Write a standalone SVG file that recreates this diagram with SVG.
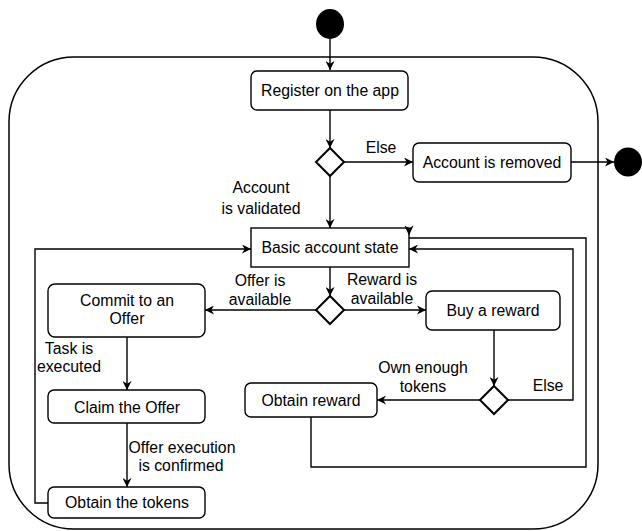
<svg xmlns="http://www.w3.org/2000/svg" width="642" height="531" viewBox="0 0 642 531">
  <style>
    .box { fill: #ffffff; stroke: #000000; stroke-width: 1.4; }
    .dec { fill: #ffffff; stroke: #000000; stroke-width: 2; }
    .edge { fill: none; stroke: #000000; stroke-width: 1.4; }
    .head { fill: #000000; stroke: none; }
    .txt { font-family: "Liberation Sans", Arial, sans-serif; font-size: 15.8px; fill: #000000; text-anchor: middle; }
  </style>
  <defs>
    <marker id="arrow" viewBox="0 0 10 10" refX="10" refY="5" markerWidth="10" markerHeight="9" markerUnits="userSpaceOnUse" orient="auto">
      <path d="M0,0 L10,5 L0,10 L3,5 Z" fill="#000000"/>
    </marker>
  </defs>

  <!-- composite state frame -->
  <rect id="frame" x="9" y="57" width="589" height="472" rx="65" ry="65" fill="none" stroke="#000000" stroke-width="1.5"/>

  <!-- initial and final nodes -->
  <g id="start"><ellipse cx="330" cy="24" rx="14" ry="15" fill="#000000"/></g>
  <g id="end"><ellipse cx="628" cy="162" rx="14" ry="14.5" fill="#000000"/></g>

  <g id="register">
    <rect class="box" x="251" y="71" width="157" height="39" rx="6"/>
    <text class="txt" x="330" y="96">Register on the app</text>
  </g>

  <g id="decision-validated">
    <polygon class="dec" points="330,148 344,162 330,176 316,162"/>
  </g>

  <g id="removed">
    <rect class="box" x="413" y="143" width="158" height="39" rx="6"/>
    <text class="txt" x="492" y="167.5">Account is removed</text>
  </g>

  <g id="basic">
    <rect class="box" x="251" y="228" width="158" height="39"/>
    <text class="txt" x="330" y="253">Basic account state</text>
  </g>

  <g id="decision-choice">
    <polygon class="dec" points="330,296 344,310 330,324 316,310"/>
  </g>

  <g id="commit">
    <rect class="box" x="48" y="284" width="157" height="53" rx="7"/>
    <text class="txt" x="127" y="305.5">Commit to an</text>
    <text class="txt" x="127" y="324">Offer</text>
  </g>

  <g id="buy">
    <rect class="box" x="426" y="291" width="134" height="39" rx="6"/>
    <text class="txt" x="493" y="315.5">Buy a reward</text>
  </g>

  <g id="claim">
    <rect class="box" x="48" y="390" width="157" height="33" rx="6"/>
    <text class="txt" x="127" y="412.5">Claim the Offer</text>
  </g>

  <g id="decision-tokens">
    <polygon class="dec" points="494,386 508,400 494,414 480,400"/>
  </g>

  <g id="obtain-reward">
    <rect class="box" x="245" y="383" width="132" height="34" rx="6"/>
    <text class="txt" x="311" y="405.5">Obtain reward</text>
  </g>

  <g id="obtain-tokens">
    <rect class="box" x="48" y="487" width="157" height="31" rx="6"/>
    <text class="txt" x="127" y="508">Obtain the tokens</text>
  </g>

  <!-- connectors -->
  <g id="connectors">
    <path class="edge" d="M330,39 V70" marker-end="url(#arrow)"/>
    <path class="edge" d="M330,110 V148" marker-end="url(#arrow)"/>
    <path class="edge" d="M344,162 H413" marker-end="url(#arrow)"/>
    <path class="edge" d="M571,162 H614" marker-end="url(#arrow)"/>
    <path class="edge" d="M330,176 V228" marker-end="url(#arrow)"/>
    <path class="edge" d="M330,267 V296" marker-end="url(#arrow)"/>
    <path class="edge" d="M316,310 H205" marker-end="url(#arrow)"/>
    <path class="edge" d="M344,310 H426" marker-end="url(#arrow)"/>
    <path class="edge" d="M127,337 V390" marker-end="url(#arrow)"/>
    <path class="edge" d="M127,423 V487" marker-end="url(#arrow)"/>
    <path class="edge" d="M48,503 H35 V249 H251" marker-end="url(#arrow)"/>
    <path class="edge" d="M494,330 V386" marker-end="url(#arrow)"/>
    <path class="edge" d="M480,400 H377" marker-end="url(#arrow)"/>
    <path class="edge" d="M508,400 H573 V249 H409" marker-end="url(#arrow)"/>
    <path class="edge" d="M311,417 V467 H586 V238 H409"/>
    <!-- arrowhead of the reward loop, landing on the state's top-right corner -->
    <polygon class="head" points="404.5,225.5 409,228.2 413.5,225.5 409,235.5"/>
  </g>

  <!-- connector labels -->
  <g id="labels">
    <text class="txt" x="381" y="152.5">Else</text>
    <text class="txt" x="261" y="192.5">Account</text>
    <text class="txt" x="261" y="213.5">is validated</text>
    <text class="txt" x="260" y="285.5">Offer is</text>
    <text class="txt" x="260" y="304.5">available</text>
    <text class="txt" x="382" y="284.5">Reward is</text>
    <text class="txt" x="382" y="303.5">available</text>
    <text class="txt" x="69" y="353.5">Task is</text>
    <text class="txt" x="69" y="371.5">executed</text>
    <text class="txt" x="423" y="372.5">Own enough</text>
    <text class="txt" x="423" y="391.5">tokens</text>
    <text class="txt" x="548" y="390.5">Else</text>
    <text class="txt" x="182" y="452.5">Offer execution</text>
    <text class="txt" x="181" y="470.5">is confirmed</text>
  </g>
</svg>
